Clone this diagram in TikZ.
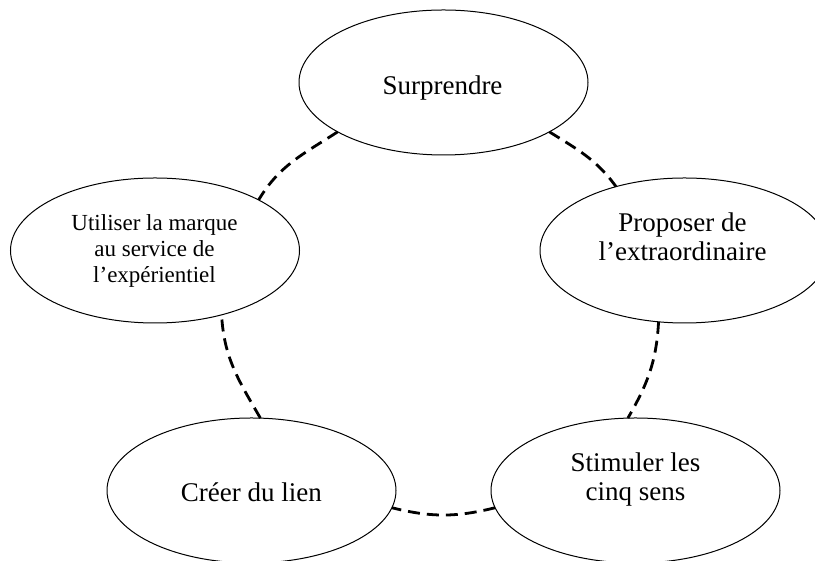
\documentclass[tikz,border=0pt]{standalone}
\usepackage{fontspec}
\setmainfont{Liberation Serif}
\usetikzlibrary{shapes.geometric}

\begin{document}
\begin{tikzpicture}[x=0.5pt, y=0.5pt]
            \tikzset{
                bubble/.style={ellipse, draw, line width=0.5pt, fill=white, minimum width=144.5pt, minimum height=72.5pt, inner sep=0pt, outer sep=0pt},
                txt/.style={align=center, inner sep=0pt, font=\fontsize{13.5}{14.5}\selectfont},
                link/.style={line width=1.4pt, dash pattern=on 6pt off 3.5pt}
            };
            \useasboundingbox (0, 0) rectangle (815, 561);
            % ellipses
            \node[bubble] (surp) at (443.5, 478.5) {};
            \node[bubble] (util) at (155, 310.5) {};
            \node[bubble] (prop) at (684.5, 310.5) {};
            \node[bubble] (creer) at (251.5, 70.5) {};
            \node[bubble] (stim) at (635.5, 70.5) {};
            % texts (base = last line)
            \node[txt, anchor=base] (surp-t) at (442.5, 466) {Surprendre};
            \node[txt, anchor=base, font=\fontsize{11.5}{13}\selectfont] (util-t) at (154.5, 278) {Utiliser la marque\\au service de\\l’expérientiel};
            \node[txt, anchor=base] (prop-t) at (682.5, 300.3) {Proposer de\\l’extraordinaire};
            \node[txt, anchor=base] (creer-t) at (251.3, 59.3) {Créer du lien};
            \node[txt, anchor=base] (stim-t) at (635.5, 60.3) {Stimuler les\\cinq sens};
            % dashed ring
            \draw[link] (surp.205) to[out=213, in=59] (util.26);
            \draw[link] (surp.335) to[out=-32, in=126] (prop.137);
            \draw[link] (prop.250) to[out=-93, in=60] (stim.96);
            \draw[link] (stim.187) to[out=194, in=-14] (creer.353);
            \draw[link] (creer.83) to[out=120, in=-87] (util.316);
        \end{tikzpicture}
\end{document}
